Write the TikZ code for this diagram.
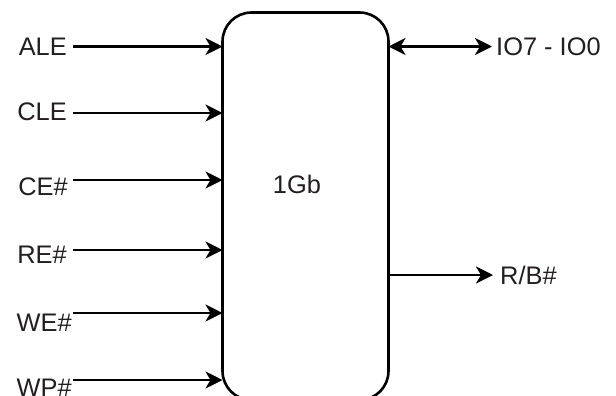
\documentclass[tikz,border=0pt]{standalone}
\usepackage{fontspec}
\setmainfont{Liberation Sans}
\usetikzlibrary{arrows.meta}
\definecolor{txt}{RGB}{35,31,32}
\tikzset{
  lbl/.style={inner sep=0pt, text=txt, font=\fontsize{25.5}{30}\selectfont},
  tipA/.tip={Stealth[length=17bp,width=17bp,inset=5bp]},
  sig/.style={line width=2.8bp, -tipA},
  bisig/.style={line width=2.8bp, tipA-tipA},
  chip/.style={draw, line width=2.6bp, rounded corners=29bp, fill=white}
}
\begin{document}
\begin{tikzpicture}[x=1bp,y=-1bp]
\useasboundingbox (0,0) rectangle (616,395);
\clip (0,0) rectangle (616,395);
\draw[chip] (222.5,12.5) rectangle (388.5,400);
\node[lbl] (chipname) at (297,184) {1Gb};
\coordinate (chipL) at (222.5,0);
\coordinate (chipR) at (388.5,0);
% left labels
\node[lbl, anchor=base east] (ale) at (67,55) {ALE};
\node[lbl, anchor=base east] (cle) at (67,120) {CLE};
\node[lbl, anchor=base east] (ce) at (68,195) {CE\#};
\node[lbl, anchor=base east] (re) at (67,263) {RE\#};
\node[lbl, anchor=base east] (we) at (72,331) {WE\#};
\node[lbl, anchor=base east] (wp) at (72,396) {WP\#};
% left arrow starts
\coordinate (sA) at (73,46.5);
\coordinate (sC) at (73,113);
\coordinate (sE) at (73,180);
\coordinate (sR) at (73,250);
\coordinate (sW) at (73,313);
\coordinate (sP) at (73,380);
\draw[sig] (sA) -- (sA -| chipL);
\draw[sig] (sC) -- (sC -| chipL);
\draw[sig] (sE) -- (sE -| chipL);
\draw[sig] (sR) -- (sR -| chipL);
\draw[sig] (sW) -- (sW -| chipL);
\draw[sig] (sP) -- (sP -| chipL);
% right side
\node[lbl, anchor=base west] (io) at (496,55) {IO7 - IO0};
\node[lbl, anchor=base west] (rb) at (500,284) {R/B\#};
\coordinate (eIO) at (492,46.5);
\coordinate (eRB) at (493,275);
\draw[bisig] (eIO -| chipR) -- (eIO);
\draw[sig] (eRB -| chipR) -- (eRB);
\end{tikzpicture}
\end{document}
